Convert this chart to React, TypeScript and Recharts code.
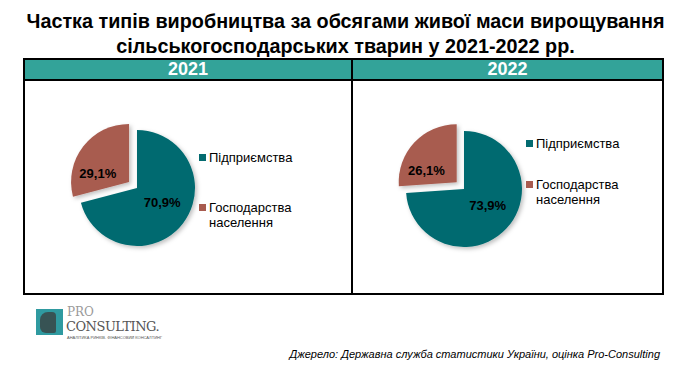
import React from 'react';
import { PieChart, Pie, Cell, Legend } from 'recharts';

const years = ['2021', '2022'];
const categories = ['Підприємства', 'Господарства населення'];
const share2021 = [70.9, 29.1];
const share2022 = [73.9, 26.1];

const COLORS = ['#036b70', '#a85b4f'];
const HEADER = '#33a399';
const RAD = Math.PI / 180;
const EXPLODE = 10;

const fmt = (v: number) => v.toFixed(1).replace('.', ',') + '%';

const makeLabel = (visible: number) => (props: any) => {
    const { cx, cy, midAngle, outerRadius, index, value } = props;
    if (index !== visible) return null;
    const k = index === 0 ? 0.5 : 0.56;
    const a = index === 0 ? midAngle + 8 : midAngle + 22;
    const x = cx + outerRadius * k * Math.cos(-a * RAD);
    const y = cy + outerRadius * k * Math.sin(-a * RAD);
    return (
        <text x={x} y={y} textAnchor="middle" dominantBaseline="central"
            fill="#000" fontSize={13} fontWeight="bold" fontFamily="Liberation Sans, Arial, sans-serif">
            {fmt(value)}
        </text>
    );
};

const LegendBox = ({ gap }: { gap: number }) => (
    <div style={{ fontFamily: 'Liberation Sans, Arial, sans-serif', fontSize: 13, color: '#000', lineHeight: '15px' }}>
        {categories.map((c, i) => (
            <div key={c} style={{ display: 'flex', alignItems: 'flex-start', marginBottom: i === 0 ? gap : 0 }}>
                <span style={{ width: 7, height: 7, background: COLORS[i], marginTop: 4, marginRight: 3, flex: 'none' }} />
                <span style={{ width: 80 }}>{i === 1 ? <>Господарства<br />населення</> : c}</span>
            </div>
        ))}
    </div>
);

interface YearPieProps {
    values: number[];
    cx: number;
    cy: number;
    legendLeft: number;
    legendTop: number;
    legendGap: number;
}

const YearPie: React.FC<YearPieProps> = ({ values, cx, cy, legendLeft, legendTop, legendGap }) => {
    const data = categories.map((name, i) => ({ name, value: values[i] }));
    const total = values.reduce((s, v) => s + v, 0);
    const mid = 90 - 360 * (values[0] + values[1] / 2) / total;
    const dx = EXPLODE * Math.cos(mid * RAD);
    const dy = -EXPLODE * Math.sin(mid * RAD);
    return (
        <PieChart width={329} height={215}>
            <defs>
                <filter id="pieShadow" x="-20%" y="-20%" width="140%" height="140%">
                    <feDropShadow dx="2" dy="2" stdDeviation="2" floodColor="#000" floodOpacity="0.25" />
                </filter>
            </defs>
            <Pie data={data} dataKey="value" cx={cx} cy={cy} outerRadius={58} startAngle={90} endAngle={-270}
                stroke="none" isAnimationActive={false} labelLine={false} label={makeLabel(0)}>
                {data.map((d, i) => (
                    <Cell key={d.name} fill={i === 0 ? COLORS[0] : 'transparent'} filter={i === 0 ? 'url(#pieShadow)' : undefined} />
                ))}
            </Pie>
            <Pie data={data} dataKey="value" cx={cx + dx} cy={cy + dy} outerRadius={58} startAngle={90} endAngle={-270}
                stroke="none" isAnimationActive={false} labelLine={false} label={makeLabel(1)}>
                {data.map((d, i) => (
                    <Cell key={d.name} fill={i === 1 ? COLORS[1] : 'transparent'} filter={i === 1 ? 'url(#pieShadow)' : undefined} />
                ))}
            </Pie>
            <Legend content={() => <LegendBox gap={legendGap} />}
                wrapperStyle={{ left: legendLeft, top: legendTop, width: 100 }} />
        </PieChart>
    );
};

const App: React.FC = () => {
    const sans = 'Liberation Sans, Arial, sans-serif';
    return (
        <div style={{ position: 'absolute', left: 0, top: 0, width: 691, height: 375, background: '#fff', overflow: 'hidden' }}>
            <div style={{ position: 'absolute', left: 0, top: 9, width: 691, textAlign: 'center', fontFamily: sans,
                fontWeight: 'bold', fontSize: 19.8, lineHeight: '25px', color: '#000' }}>
                Частка типів виробництва за обсягами живої маси вирощування<br />
                сільськогосподарських тварин у 2021-2022 рр.
            </div>
            <div style={{ position: 'absolute', left: 23, top: 58, width: 641, height: 237, border: '2px solid #000', boxSizing: 'border-box' }} />
            <div style={{ position: 'absolute', left: 25, top: 60, width: 637, height: 20, background: HEADER }} />
            <div style={{ position: 'absolute', left: 23, top: 79, width: 641, height: 2, background: '#000' }} />
            <div style={{ position: 'absolute', left: 351, top: 58, width: 2, height: 237, background: '#000' }} />
            {years.map((y, i) => (
                <div key={y} style={{ position: 'absolute', left: i === 0 ? 25 : 353, top: 59, width: i === 0 ? 326 : 309,
                    height: 21, lineHeight: '21px', textAlign: 'center', color: '#fff', fontFamily: sans,
                    fontWeight: 'bold', fontSize: 18 }}>{y}</div>
            ))}
            <div style={{ position: 'absolute', left: 23, top: 80 }}>
                <YearPie values={share2021} cx={109} cy={103} legendLeft={176} legendTop={70} legendGap={35} />
            </div>
            <div style={{ position: 'absolute', left: 352, top: 80 }}>
                <YearPie values={share2022} cx={107} cy={104} legendLeft={174} legendTop={56} legendGap={26} />
            </div>
            <div style={{ position: 'absolute', left: 36, top: 309, width: 27, height: 26, background: '#2f9aa0' }}>
                <div style={{ position: 'absolute', left: 4, top: 3, width: 16, height: 21, background: '#3b3b3b', borderRadius: '8px 4px 2px 6px', opacity: 0.75 }} />
            </div>
            <div style={{ position: 'absolute', left: 67, top: 305, fontFamily: 'DejaVu Serif, serif', fontSize: 12, color: '#9a9a9a', lineHeight: '14px' }}>PRO</div>
            <div style={{ position: 'absolute', left: 66, top: 319, fontFamily: 'DejaVu Serif, serif', fontSize: 13, color: '#555', lineHeight: '15px', letterSpacing: -0.5 }}>CONSULTING.</div>
            <div style={{ position: 'absolute', left: 67, top: 335, fontFamily: sans, fontSize: 4, color: '#555', lineHeight: '5px', whiteSpace: 'nowrap' }}>АНАЛІТИКА РИНКІВ. ФІНАНСОВИЙ КОНСАЛТИНГ</div>
            <div style={{ position: 'absolute', right: 31, top: 348, fontFamily: sans, fontStyle: 'italic', fontSize: 11, color: '#000', whiteSpace: 'nowrap' }}>
                Джерело: Державна служба статистики України, оцінка Pro-Consulting
            </div>
        </div>
    );
};

export default App;
